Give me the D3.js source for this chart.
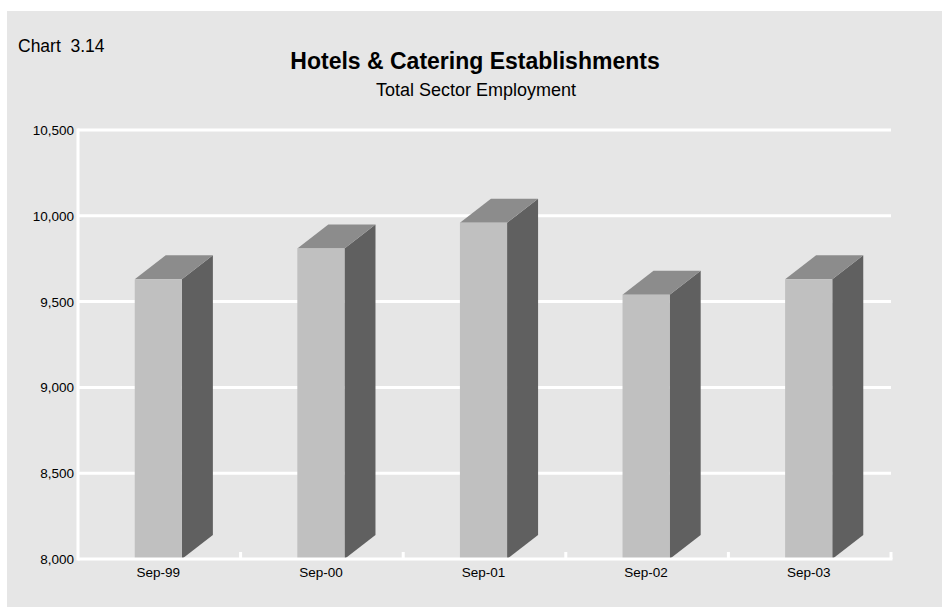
<!DOCTYPE html>
<html>
<head>
<meta charset="utf-8">
<script src="https://cdn.jsdelivr.net/npm/d3@7/dist/d3.min.js"></script>
<style>
  html, body { margin: 0; padding: 0; background: #ffffff; }
  svg { display: block; font-family: "Liberation Sans", Arial, Helvetica, sans-serif; }
</style>
</head>
<body>
<svg id="chart" width="942" height="607"></svg>
<script>
// Total sector employment, hotels & catering establishments
const categories = ["Sep-99", "Sep-00", "Sep-01", "Sep-02", "Sep-03"];
const employment = [9630, 9810, 9960, 9540, 9630];
const yTicks = [8000, 8500, 9000, 9500, 10000, 10500];

const W = 942, H = 607;
const plot = { left: 78, right: 891, top: 130, bottom: 559 };
const depth = { dx: 31, dy: 24 };

const colors = {
  panel: "#e6e6e6",
  grid: "#ffffff",
  front: "#c0c0c0",
  side: "#606060",
  top: "#8c8c8c",
  text: "#000000"
};

const svg = d3.select("#chart");

// background panel
svg.append("rect")
  .attr("x", 7).attr("y", 11)
  .attr("width", W - 7).attr("height", H - 11)
  .attr("fill", colors.panel);

const x = d3.scaleBand()
  .domain(categories)
  .range([plot.left, plot.right])
  .paddingInner(0).paddingOuter(0);

const y = d3.scaleLinear()
  .domain([8000, 10500])
  .range([plot.bottom, plot.top]);

// titles
svg.append("text")
  .attr("x", 18).attr("y", 52)
  .attr("font-size", 17.5)
  .attr("fill", colors.text)
  .style("white-space", "pre")
  .text("Chart  3.14");

svg.append("text")
  .attr("x", 475).attr("y", 69)
  .attr("text-anchor", "middle")
  .attr("font-size", 23)
  .attr("font-weight", "bold")
  .attr("fill", colors.text)
  .text("Hotels & Catering Establishments");

svg.append("text")
  .attr("x", 476).attr("y", 96)
  .attr("text-anchor", "middle")
  .attr("font-size", 18)
  .attr("fill", colors.text)
  .text("Total Sector Employment");

// horizontal gridlines
svg.append("g")
  .selectAll("line")
  .data(yTicks.filter(t => t !== 8000))
  .join("line")
  .attr("x1", plot.left).attr("x2", plot.right)
  .attr("y1", d => y(d)).attr("y2", d => y(d))
  .attr("stroke", colors.grid)
  .attr("stroke-width", 3);

// y axis labels
const fmt = d3.format(",");
svg.append("g")
  .selectAll("text")
  .data(yTicks)
  .join("text")
  .attr("x", plot.left - 4)
  .attr("y", d => y(d) + 5)
  .attr("text-anchor", "end")
  .attr("font-size", 13.5)
  .attr("fill", colors.text)
  .text(d => fmt(d));

// 3D bars
const frontW = x.bandwidth() * 0.29;
const bars = svg.append("g")
  .selectAll("g")
  .data(categories.map((c, i) => ({ cat: c, value: employment[i] })))
  .join("g");

const x0 = d => x(d.cat) + x.bandwidth() / 2 - 1 - frontW / 2;
const x1 = d => x0(d) + frontW;
const base = y(8000);

bars.append("polygon")
  .attr("fill", colors.side)
  .attr("points", d => {
    const yt = y(d.value);
    return [
      [x1(d), yt],
      [x1(d) + depth.dx, yt - depth.dy],
      [x1(d) + depth.dx, base - depth.dy],
      [x1(d), base]
    ].join(" ");
  });

bars.append("polygon")
  .attr("fill", colors.top)
  .attr("points", d => {
    const yt = y(d.value);
    return [
      [x0(d), yt],
      [x0(d) + depth.dx, yt - depth.dy],
      [x1(d) + depth.dx, yt - depth.dy],
      [x1(d), yt]
    ].join(" ");
  });

bars.append("rect")
  .attr("fill", colors.front)
  .attr("x", d => x0(d))
  .attr("y", d => y(d.value))
  .attr("width", frontW)
  .attr("height", d => base - y(d.value));

// axes lines
svg.append("line")
  .attr("x1", plot.left).attr("x2", plot.left)
  .attr("y1", plot.top - 1.5).attr("y2", plot.bottom + 1.5)
  .attr("stroke", colors.grid).attr("stroke-width", 3);

svg.append("line")
  .attr("x1", plot.left).attr("x2", plot.right + 1.5)
  .attr("y1", plot.bottom).attr("y2", plot.bottom)
  .attr("stroke", colors.grid).attr("stroke-width", 3);

// category boundary ticks
const boundaries = categories.slice(1).map(c => x(c)).concat([plot.right]);
svg.append("g")
  .selectAll("line")
  .data(boundaries)
  .join("line")
  .attr("x1", d => d).attr("x2", d => d)
  .attr("y1", plot.bottom).attr("y2", plot.bottom - 7)
  .attr("stroke", colors.grid).attr("stroke-width", 3);

// x axis labels
svg.append("g")
  .selectAll("text")
  .data(categories)
  .join("text")
  .attr("x", d => x(d) + x.bandwidth() / 2 - 1)
  .attr("y", plot.bottom + 18)
  .attr("text-anchor", "middle")
  .attr("font-size", 13.5)
  .attr("fill", colors.text)
  .text(d => d);
</script>
</body>
</html>
